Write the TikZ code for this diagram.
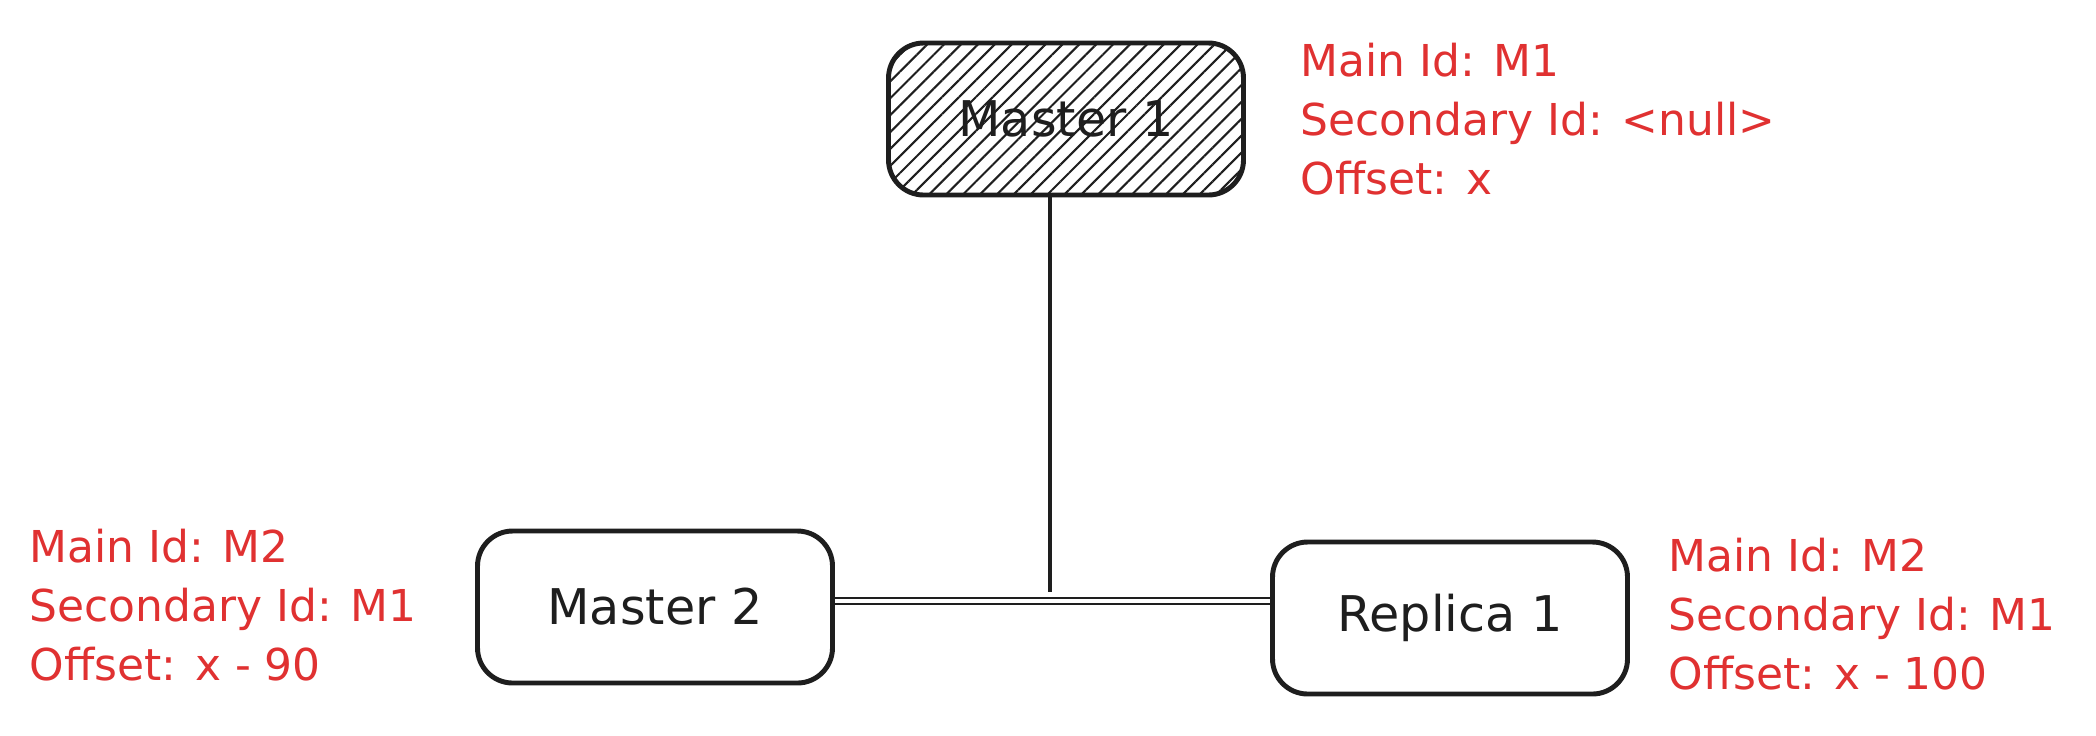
\documentclass[tikz,border=0pt]{standalone}
\usepackage{fontspec}
\setmainfont{DejaVu Sans}
\usetikzlibrary{patterns.meta}
\definecolor{ink}{HTML}{1E1E1E}
\definecolor{inkred}{HTML}{E03131}

\tikzset{
    box/.style={draw=ink, rounded corners=10pt, line width=1.4pt, align=center,
        font=\fontsize{14}{17}\selectfont, text=ink, minimum width=35.5mm,
        minimum height=15.2mm, inner sep=0pt},
    hatched/.style={box, pattern={Lines[angle=45, distance=3.4pt, line width=0.6pt]},
        pattern color=ink},
    note/.style={anchor=west, align=left, inner sep=0pt, text=inkred,
        font=\fontsize{12.5}{16.8}\selectfont},
    link/.style={draw=ink, line width=1.1pt},
    doublelink/.style={draw=ink, line width=0.8pt, double, double distance=0.9pt}
}

\begin{document}
\begin{tikzpicture}
    \fill[white] (0,0) rectangle (20.96,-7.35);
    \useasboundingbox (0,0) rectangle (20.96,-7.35);

    \node[hatched] (master-one) at (10.66,-1.19) {Master 1};
    \node[box] (master-two) at (6.55,-6.07) {Master 2};
    \node[box] (replica-one) at (14.50,-6.18) {Replica 1};

    \node[note] (master-one-ids) at (13.00,-1.19)
        {Main Id: M1\\Secondary Id: <null>\\Offset: x};
    \node[note] (master-two-ids) at (0.29,-6.05)
        {Main Id: M2\\Secondary Id: M1\\Offset: x - 90};
    \node[note] (replica-one-ids) at (16.68,-6.14)
        {Main Id: M2\\Secondary Id: M1\\Offset: x - 100};

    \coordinate (tee) at (10.50,-5.92);
    \coordinate (bus) at (10.50,-6.01);
    \draw[link] (master-one.south -| tee) -- (tee);
    \draw[doublelink] (master-two.east |- bus) -- (replica-one.west |- bus);
\end{tikzpicture}
\end{document}
